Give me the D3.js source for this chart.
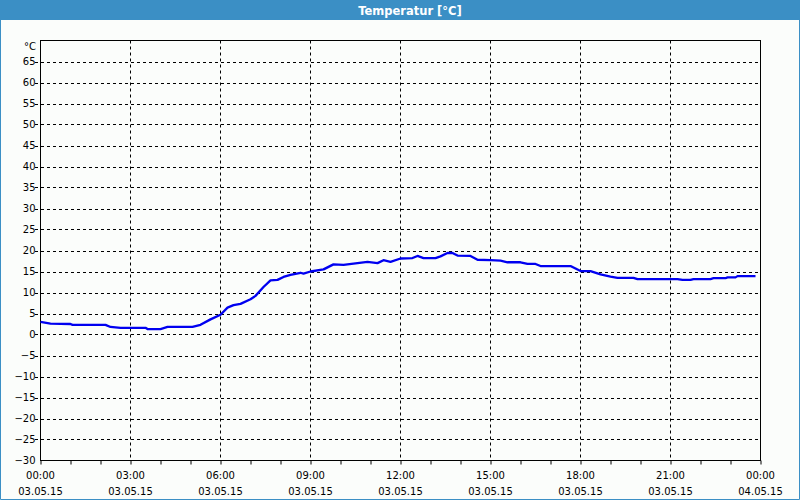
<!DOCTYPE html>
<html>
<head>
<meta charset="utf-8">
<script src="https://cdn.jsdelivr.net/npm/d3@7"></script>
<style>
  html, body { margin: 0; padding: 0; background: #fbfdfb; }
  svg { display: block; }
  text { font-family: "DejaVu Sans", sans-serif; }
</style>
</head>
<body>
<svg id="chart" width="800" height="500"></svg>
<script>
// ---- Data ----
const title = "Temperatur [°C]";
const unitLabel = "°C";
const times = ["00:00","00:20","01:00","01:04","02:10","02:20","02:40","03:30","03:34","04:00",
  "04:14","05:04","05:20","05:40","06:00","06:14","06:26","06:40","07:00","07:10",
  "07:26","07:40","07:54","08:06","08:20","08:40","08:46","09:00","09:26","09:46",
  "10:06","10:26","10:54","11:14","11:26","11:40","12:00","12:24","12:34","12:46",
  "13:10","13:20","13:34","13:44","13:54","14:20","14:34","15:00","15:20","15:34",
  "16:00","16:14","16:30","16:40","17:40","18:00","18:20","18:40","19:00","19:14",
  "19:46","19:54","21:14","21:24","21:40","21:46","22:20","22:26","22:50","22:54",
  "23:10","23:14","23:50"];
const temps = [3.0,2.6,2.5,2.3,2.3,1.8,1.6,1.6,1.3,1.3,
  1.8,1.8,2.3,3.6,4.7,6.4,7.0,7.3,8.4,9.2,
  11.3,12.9,13.0,13.7,14.2,14.7,14.5,15.0,15.5,16.7,
  16.6,16.9,17.3,17.0,17.7,17.3,18.1,18.2,18.7,18.2,
  18.2,18.6,19.4,19.4,18.8,18.7,17.8,17.7,17.6,17.2,
  17.2,16.8,16.8,16.3,16.3,15.1,15.1,14.3,13.8,13.5,
  13.5,13.2,13.2,13.0,13.0,13.2,13.2,13.4,13.4,13.6,
  13.6,13.9,13.9];
const yTicks = [-30,-25,-20,-15,-10,-5,0,5,10,15,20,25,30,35,40,45,50,55,60,65];
const xTickHours = [0,3,6,9,12,15,18,21,24];
const xTimeLabels = ["00:00","03:00","06:00","09:00","12:00","15:00","18:00","21:00","00:00"];
const xDateLabels = ["03.05.15","03.05.15","03.05.15","03.05.15","03.05.15","03.05.15","03.05.15","03.05.15","04.05.15"];

// ---- Layout ----
const W = 800, H = 500;
const L = 40.5, R = 760.5, T = 40.5, B = 460.5;
const svg = d3.select("#chart");

const toHours = s => { const [h, m] = s.split(":").map(Number); return h + m / 60; };
const data = times.map((t, i) => ({ h: toHours(t), v: temps[i] }));

const x = d3.scaleLinear().domain([0, 24]).range([L, R]);
const y = d3.scaleLinear().domain([-30, 70]).range([B, T]);

// background
svg.append("rect").attr("width", W).attr("height", H).attr("fill", "#fbfdfb");

// title bar
svg.append("rect").attr("x", 0).attr("y", 0).attr("width", W).attr("height", 20).attr("fill", "#3b8fc5");
svg.append("text").attr("x", 410).attr("y", 14.5).attr("text-anchor", "middle")
  .attr("fill", "#ffffff").attr("font-weight", "bold").attr("font-size", 11.5).text(title);

// window border
svg.append("path").attr("d", `M0.5,20 V499.5 H799.5 V20`).attr("fill", "none")
  .attr("stroke", "#3b8fc5").attr("stroke-width", 1);

// horizontal grid
const gridY = yTicks.filter(v => v > -30);
svg.append("g").selectAll("line").data(gridY).join("line")
  .attr("x1", 35).attr("x2", R).attr("y1", d => Math.round(y(d)) + 0.5).attr("y2", d => Math.round(y(d)) + 0.5)
  .attr("stroke", "#000").attr("stroke-width", 1).attr("stroke-dasharray", "3,3");

// vertical grid
svg.append("g").selectAll("line").data(xTickHours.filter(h => h > 0 && h < 24)).join("line")
  .attr("x1", d => x(d)).attr("x2", d => x(d)).attr("y1", T).attr("y2", B)
  .attr("stroke", "#000").attr("stroke-width", 1).attr("stroke-dasharray", "3,3");

// x axis with hourly minor ticks
const xAxis = d3.axisBottom(x).tickValues(d3.range(0, 25, 1)).tickSize(4).tickFormat("");
const gx = svg.append("g").attr("transform", `translate(0,${B})`).call(xAxis);
gx.select(".domain").remove();
gx.selectAll("line").attr("stroke", "#000");

// x labels (two lines)
const xl = svg.append("g").attr("font-size", 10).attr("fill", "#000").attr("text-anchor", "middle");
xl.selectAll("text.t").data(xTickHours).join("text").attr("class", "t")
  .attr("x", d => x(d)).attr("y", 478.5).text((d, i) => xTimeLabels[i]);
xl.selectAll("text.d").data(xTickHours).join("text").attr("class", "d")
  .attr("x", d => x(d)).attr("y", 494.5).text((d, i) => xDateLabels[i]);

// y labels
const yAxis = d3.axisLeft(y).tickValues(yTicks).tickSize(0).tickPadding(5).tickFormat(d3.format("d"));
const gy = svg.append("g").attr("transform", `translate(${L},0)`).call(yAxis);
gy.select(".domain").remove();
gy.selectAll("text").attr("font-size", 10).attr("fill", "#000").attr("font-family", "DejaVu Sans, sans-serif");
svg.append("text").attr("x", 36).attr("y", 49.5).attr("text-anchor", "end")
  .attr("font-size", 10).attr("fill", "#000").text(unitLabel);

// plot frame
svg.append("rect").attr("x", L).attr("y", T).attr("width", R - L).attr("height", B - T)
  .attr("fill", "none").attr("stroke", "#000").attr("stroke-width", 1);

// data line
const line = d3.line().x(d => x(d.h)).y(d => y(d.v)).curve(d3.curveLinear);
svg.append("path").datum(data).attr("d", line).attr("fill", "none")
  .attr("stroke", "#0000f0").attr("stroke-width", 2.3).attr("stroke-linejoin", "round");
</script>
</body>
</html>
